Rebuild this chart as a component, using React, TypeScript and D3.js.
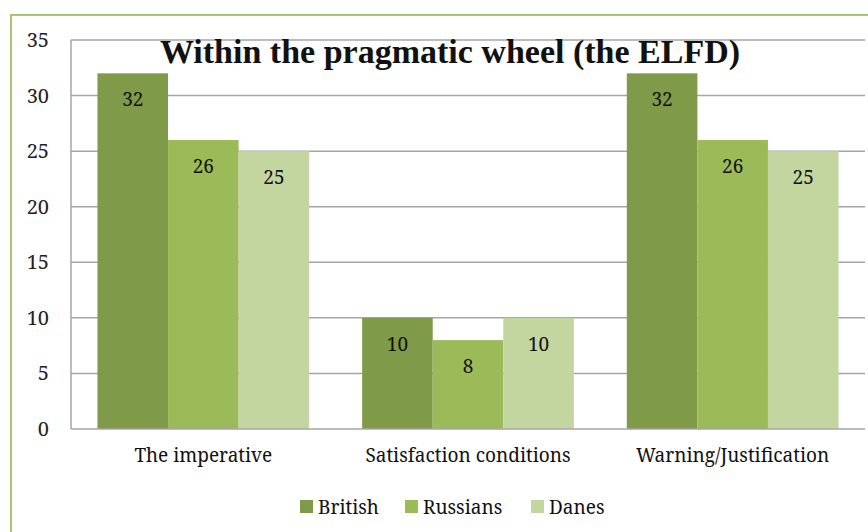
import React from "react";
import * as d3 from "d3";

const categories = ["The imperative", "Satisfaction conditions", "Warning/Justification"];
const seriesNames = ["British", "Russians", "Danes"];
const british = [32, 10, 32];
const russians = [26, 8, 26];
const danes = [25, 10, 25];
const yTicks = [0, 5, 10, 15, 20, 25, 30, 35];
const colors = ["#7F9A48", "#9BBB59", "#C4D6A0"];
const title = "Within the pragmatic wheel (the ELFD)";

const W = 868;
const H = 532;
const FONT = "'Noto Serif', 'Liberation Serif', serif";
const TITLE_FONT = "'Times New Roman', 'Liberation Serif', serif";

export default function App() {
  const values = [british, russians, danes];
  const left = 71, right = 865, top = 40, bottom = 429;
  const x0 = d3.scaleBand<string>().domain(categories).range([left, right]).paddingInner(0.2).paddingOuter(0.1);
  const x1 = d3.scaleBand<string>().domain(seriesNames).range([0, x0.bandwidth()]).padding(0);
  const y = d3.scaleLinear().domain([0, 35]).range([bottom, top]);

  const legendSq = [300, 405, 531];
  const ts = (size: number): React.CSSProperties => ({
    fontFamily: FONT,
    fontSize: size + "px",
    fontWeight: 400,
  });

  return (
    <svg width={W} height={H} style={{ position: "absolute", left: 0, top: 0 }}>
      <rect x={0} y={0} width={W} height={H} fill="#fff" />
      <rect x={11} y={15} width={W + 20} height={H} fill="#fff" stroke="#A8C66C" strokeWidth={2} />
      {yTicks.map((t) => (
        <g key={t}>
          {t > 0 && <line x1={left} x2={right} y1={y(t)} y2={y(t)} stroke="#A6A6A6" strokeWidth={1.5} />}
          <text x={49} y={y(t) + 7} textAnchor="end" style={ts(20)} fill="#222">{t}</text>
        </g>
      ))}
      {categories.map((c, ci) => (
        <g key={c}>
          {seriesNames.map((s, si) => {
            const v = values[si][ci];
            const bx = (x0(c) as number) + (x1(s) as number);
            const bw = x1.bandwidth();
            const cx = bx + bw / 2;
            return (
              <g key={s}>
                <rect x={bx} y={y(v)} width={bw} height={y(0) - y(v)} fill={colors[si]} />
                <text x={cx} y={y(v) + 33} textAnchor="middle" style={ts(19)} fill="#111">{v}</text>
              </g>
            );
          })}
          <text x={(x0(c) as number) + x0.bandwidth() / 2} y={462} textAnchor="middle" style={ts(19)} fill="#111">{c}</text>
        </g>
      ))}
      <line x1={left} x2={left} y1={top} y2={bottom} stroke="#A6A6A6" strokeWidth={1.5} />
      <line x1={left} x2={right} y1={bottom} y2={bottom} stroke="#A6A6A6" strokeWidth={1.5} />
      <text x={450} y={63} textAnchor="middle"
        style={{ fontFamily: TITLE_FONT, fontSize: "34px", fontWeight: 700 }} fill="#111">{title}</text>
      {seriesNames.map((n, i) => (
        <g key={n}>
          <rect x={legendSq[i]} y={500} width={13} height={13} fill={colors[i]} />
          <text x={legendSq[i] + 18} y={514} style={ts(19)} fill="#111">{n}</text>
        </g>
      ))}
    </svg>
  );
}
